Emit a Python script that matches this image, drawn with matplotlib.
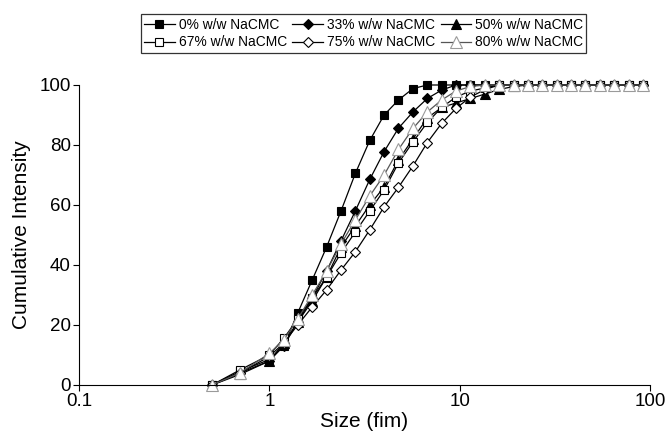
import matplotlib
matplotlib.use("Agg")
import matplotlib.pyplot as plt
from matplotlib.ticker import FixedLocator, FixedFormatter, NullLocator

plt.rcParams['font.family'] = ['Liberation Sans', 'DejaVu Sans']

size = [0.50, 0.70, 1.00, 1.19, 1.41, 1.68, 2.00, 2.38, 2.83, 3.37, 4.01, 4.77,
        5.68, 6.76, 8.04, 9.57, 11.4, 13.6, 16.1, 19.2, 22.9, 27.2, 32.4, 38.5,
        45.8, 54.5, 64.9, 77.2, 91.9]

s0  = [0, 4.5, 8.5, 13, 24, 35, 46, 58, 70.5, 81.5, 90, 95, 98.8, 100, 100, 100,
       100, 100, 100, 100, 100, 100, 100, 100, 100, 100, 100, 100, 100]
s33 = [0, 4, 8, 13, 21, 29, 38, 48, 58, 68.5, 77.8, 85.6, 91, 95.5, 98.3, 100,
       100, 100, 100, 100, 100, 100, 100, 100, 100, 100, 100, 100, 100]
s50 = [0, 3.5, 8, 14, 21, 28, 36, 46, 53, 60, 66, 75, 82, 89, 92.5, 94,
       95.5, 97, 98.5, 99.5, 100, 100, 100, 100, 100, 100, 100, 100, 100]
s67 = [0, 5, 10, 15.5, 22, 29, 36, 44, 51, 58, 65, 74, 81, 87.5, 92.5, 96,
       98, 99, 100, 100, 100, 100, 100, 100, 100, 100, 100, 100, 100]
s75 = [0, 4, 9.5, 14, 20, 26, 31.7, 38.3, 44.4, 51.7, 59.4, 65.9, 73, 80.8, 87.2, 92.2,
       96, 98.5, 100, 100, 100, 100, 100, 100, 100, 100, 100, 100, 100]
s80 = [0, 4, 10.5, 15, 22, 30, 38, 47, 55, 63, 70, 78.5, 85.5, 91, 95, 98,
       99.5, 100, 100, 100, 100, 100, 100, 100, 100, 100, 100, 100, 100]

labels = ['0% w/w NaCMC', '33% w/w NaCMC', '50% w/w NaCMC',
          '67% w/w NaCMC', '75% w/w NaCMC', '80% w/w NaCMC']
xticks = [0.1, 1, 10, 100]
xticklabels = ['0.1', '1', '10', '100']
yticks = [0, 20, 40, 60, 80, 100]

fig = plt.figure(figsize=(6.71, 4.37), dpi=100)
ax = fig.add_axes([0.1177, 0.119, 0.851, 0.6865])

styles = [
    dict(marker='s', mfc='black', mec='black', ms=6, color='black'),
    dict(marker='D', mfc='black', mec='black', ms=5, color='black'),
    dict(marker='^', mfc='black', mec='black', ms=7, color='black'),
    dict(marker='s', mfc='white', mec='black', ms=6, color='black'),
    dict(marker='D', mfc='white', mec='black', ms=5, color='black'),
    dict(marker='^', mfc='white', mec='#9a9a9a', ms=8, color='#555555'),
]
series = [s0, s33, s50, s67, s75, s80]
handles = []
for ys, st, lab in zip(series, styles, labels):
    h, = ax.plot(size, ys, lw=0.9, mew=0.8, label=lab, clip_on=False, **st)
    handles.append(h)

ax.set_xscale('log')
ax.set_xlim(0.1, 100)
ax.set_ylim(0, 100)
ax.xaxis.set_major_locator(FixedLocator(xticks))
ax.xaxis.set_major_formatter(FixedFormatter(xticklabels))
ax.xaxis.set_minor_locator(NullLocator())
ax.set_yticks(yticks)
ax.spines['top'].set_visible(False)
ax.spines['right'].set_visible(False)
ax.tick_params(direction='out', length=4, width=0.8, labelsize=13.5, colors='black', pad=2)
ax.set_xlabel('Size (fim)', fontsize=15, labelpad=1)
ax.set_ylabel('Cumulative Intensity', fontsize=15, labelpad=6)

order = [0, 3, 1, 4, 2, 5]
leg = fig.legend([handles[i] for i in order], [labels[i] for i in order],
                 ncol=3, loc='center', bbox_to_anchor=(0.542, 0.923),
                 fontsize=9.9, frameon=True, fancybox=False, edgecolor='black',
                 handlelength=2.2, handletextpad=0.3, columnspacing=0.4,
                 labelspacing=0.25, borderpad=0.25, borderaxespad=0)
leg.get_frame().set_linewidth(0.9)

fig.savefig('out.png', dpi=100)
